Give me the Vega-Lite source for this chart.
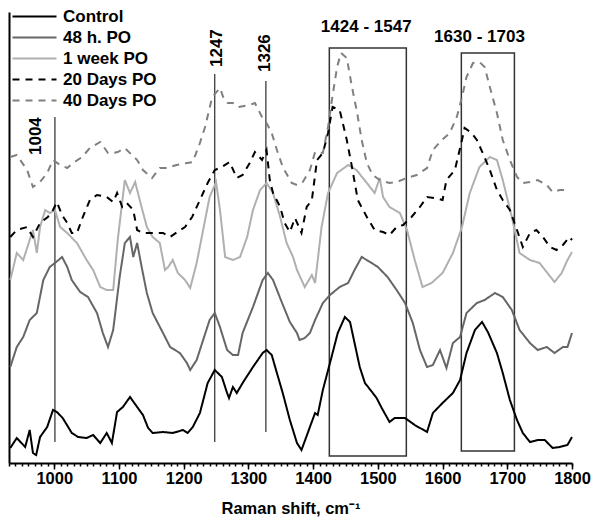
{
  "$schema": "https://vega.github.io/schema/vega-lite/v6.json",
  "width": 563,
  "height": 451,
  "autosize": "none",
  "padding": {"left": 9, "top": 12, "right": 28, "bottom": 57},
  "config": {"view": {"stroke": null}, "font": "Liberation Sans"},
  "datasets": {
    "spectra": [
      {"s":"Control","x":932,"y":15},{"s":"Control","x":942,"y":25},{"s":"Control","x":955,"y":16},{"s":"Control","x":962,"y":33},{"s":"Control","x":967,"y":10},{"s":"Control","x":972,"y":8},{"s":"Control","x":978,"y":26},{"s":"Control","x":989,"y":36},{"s":"Control","x":998,"y":53},{"s":"Control","x":1004,"y":51},{"s":"Control","x":1013,"y":45},{"s":"Control","x":1027,"y":30},{"s":"Control","x":1037,"y":26},{"s":"Control","x":1050,"y":25},{"s":"Control","x":1060,"y":28},{"s":"Control","x":1071,"y":20},{"s":"Control","x":1081,"y":30},{"s":"Control","x":1089,"y":20},{"s":"Control","x":1097,"y":51},{"s":"Control","x":1106,"y":56},{"s":"Control","x":1117,"y":66},{"s":"Control","x":1128,"y":56},{"s":"Control","x":1137,"y":48},{"s":"Control","x":1145,"y":35},{"s":"Control","x":1152,"y":30},{"s":"Control","x":1168,"y":31},{"s":"Control","x":1183,"y":30},{"s":"Control","x":1199,"y":33},{"s":"Control","x":1206,"y":30},{"s":"Control","x":1214,"y":36},{"s":"Control","x":1225,"y":50},{"s":"Control","x":1237,"y":80},{"s":"Control","x":1248,"y":93},{"s":"Control","x":1259,"y":86},{"s":"Control","x":1267,"y":70},{"s":"Control","x":1270,"y":65},{"s":"Control","x":1276,"y":76},{"s":"Control","x":1282,"y":70},{"s":"Control","x":1291,"y":80},{"s":"Control","x":1307,"y":96},{"s":"Control","x":1322,"y":110},{"s":"Control","x":1328,"y":113},{"s":"Control","x":1336,"y":108},{"s":"Control","x":1344,"y":90},{"s":"Control","x":1353,"y":70},{"s":"Control","x":1364,"y":43},{"s":"Control","x":1375,"y":20},{"s":"Control","x":1382,"y":13},{"s":"Control","x":1395,"y":36},{"s":"Control","x":1403,"y":50},{"s":"Control","x":1407,"y":48},{"s":"Control","x":1415,"y":73},{"s":"Control","x":1426,"y":100},{"s":"Control","x":1438,"y":130},{"s":"Control","x":1449,"y":146},{"s":"Control","x":1457,"y":141},{"s":"Control","x":1464,"y":120},{"s":"Control","x":1472,"y":96},{"s":"Control","x":1480,"y":80},{"s":"Control","x":1491,"y":71},{"s":"Control","x":1498,"y":65},{"s":"Control","x":1506,"y":55},{"s":"Control","x":1518,"y":41},{"s":"Control","x":1526,"y":45},{"s":"Control","x":1542,"y":45},{"s":"Control","x":1557,"y":38},{"s":"Control","x":1576,"y":31},{"s":"Control","x":1585,"y":50},{"s":"Control","x":1600,"y":60},{"s":"Control","x":1616,"y":70},{"s":"Control","x":1627,"y":83},{"s":"Control","x":1637,"y":110},{"s":"Control","x":1650,"y":133},{"s":"Control","x":1661,"y":141},{"s":"Control","x":1670,"y":131},{"s":"Control","x":1684,"y":110},{"s":"Control","x":1693,"y":90},{"s":"Control","x":1704,"y":63},{"s":"Control","x":1715,"y":43},{"s":"Control","x":1724,"y":30},{"s":"Control","x":1735,"y":21},{"s":"Control","x":1747,"y":23},{"s":"Control","x":1758,"y":23},{"s":"Control","x":1770,"y":15},{"s":"Control","x":1781,"y":16},{"s":"Control","x":1793,"y":18},{"s":"Control","x":1800,"y":26},

      {"s":"48 h. PO","x":932,"y":96},{"s":"48 h. PO","x":942,"y":116},{"s":"48 h. PO","x":952,"y":126},{"s":"48 h. PO","x":962,"y":143},{"s":"48 h. PO","x":973,"y":150},{"s":"48 h. PO","x":983,"y":183},{"s":"48 h. PO","x":993,"y":196},{"s":"48 h. PO","x":1001,"y":200},{"s":"48 h. PO","x":1012,"y":206},{"s":"48 h. PO","x":1020,"y":196},{"s":"48 h. PO","x":1027,"y":183},{"s":"48 h. PO","x":1040,"y":171},{"s":"48 h. PO","x":1052,"y":166},{"s":"48 h. PO","x":1066,"y":150},{"s":"48 h. PO","x":1075,"y":130},{"s":"48 h. PO","x":1083,"y":116},{"s":"48 h. PO","x":1091,"y":133},{"s":"48 h. PO","x":1101,"y":186},{"s":"48 h. PO","x":1109,"y":220},{"s":"48 h. PO","x":1117,"y":226},{"s":"48 h. PO","x":1122,"y":206},{"s":"48 h. PO","x":1128,"y":220},{"s":"48 h. PO","x":1135,"y":196},{"s":"48 h. PO","x":1143,"y":170},{"s":"48 h. PO","x":1152,"y":150},{"s":"48 h. PO","x":1168,"y":130},{"s":"48 h. PO","x":1179,"y":116},{"s":"48 h. PO","x":1194,"y":110},{"s":"48 h. PO","x":1205,"y":100},{"s":"48 h. PO","x":1210,"y":93},{"s":"48 h. PO","x":1220,"y":103},{"s":"48 h. PO","x":1230,"y":123},{"s":"48 h. PO","x":1240,"y":143},{"s":"48 h. PO","x":1248,"y":150},{"s":"48 h. PO","x":1256,"y":136},{"s":"48 h. PO","x":1267,"y":113},{"s":"48 h. PO","x":1276,"y":108},{"s":"48 h. PO","x":1284,"y":108},{"s":"48 h. PO","x":1291,"y":130},{"s":"48 h. PO","x":1307,"y":156},{"s":"48 h. PO","x":1322,"y":183},{"s":"48 h. PO","x":1330,"y":190},{"s":"48 h. PO","x":1338,"y":183},{"s":"48 h. PO","x":1352,"y":160},{"s":"48 h. PO","x":1364,"y":141},{"s":"48 h. PO","x":1375,"y":130},{"s":"48 h. PO","x":1379,"y":123},{"s":"48 h. PO","x":1387,"y":125},{"s":"48 h. PO","x":1395,"y":130},{"s":"48 h. PO","x":1403,"y":143},{"s":"48 h. PO","x":1415,"y":160},{"s":"48 h. PO","x":1426,"y":168},{"s":"48 h. PO","x":1441,"y":176},{"s":"48 h. PO","x":1454,"y":180},{"s":"48 h. PO","x":1464,"y":193},{"s":"48 h. PO","x":1475,"y":206},{"s":"48 h. PO","x":1488,"y":201},{"s":"48 h. PO","x":1500,"y":196},{"s":"48 h. PO","x":1515,"y":186},{"s":"48 h. PO","x":1529,"y":173},{"s":"48 h. PO","x":1542,"y":160},{"s":"48 h. PO","x":1554,"y":140},{"s":"48 h. PO","x":1565,"y":113},{"s":"48 h. PO","x":1576,"y":96},{"s":"48 h. PO","x":1585,"y":98},{"s":"48 h. PO","x":1596,"y":113},{"s":"48 h. PO","x":1606,"y":95},{"s":"48 h. PO","x":1616,"y":120},{"s":"48 h. PO","x":1627,"y":126},{"s":"48 h. PO","x":1637,"y":150},{"s":"48 h. PO","x":1653,"y":160},{"s":"48 h. PO","x":1665,"y":163},{"s":"48 h. PO","x":1681,"y":170},{"s":"48 h. PO","x":1693,"y":166},{"s":"48 h. PO","x":1707,"y":153},{"s":"48 h. PO","x":1719,"y":133},{"s":"48 h. PO","x":1735,"y":120},{"s":"48 h. PO","x":1747,"y":113},{"s":"48 h. PO","x":1761,"y":116},{"s":"48 h. PO","x":1773,"y":110},{"s":"48 h. PO","x":1786,"y":116},{"s":"48 h. PO","x":1793,"y":116},{"s":"48 h. PO","x":1800,"y":130},

      {"s":"1 week PO","x":932,"y":183},{"s":"1 week PO","x":942,"y":210},{"s":"1 week PO","x":952,"y":203},{"s":"1 week PO","x":962,"y":223},{"s":"1 week PO","x":967,"y":233},{"s":"1 week PO","x":973,"y":210},{"s":"1 week PO","x":978,"y":236},{"s":"1 week PO","x":986,"y":253},{"s":"1 week PO","x":993,"y":250},{"s":"1 week PO","x":1001,"y":253},{"s":"1 week PO","x":1009,"y":236},{"s":"1 week PO","x":1020,"y":230},{"s":"1 week PO","x":1035,"y":220},{"s":"1 week PO","x":1050,"y":203},{"s":"1 week PO","x":1060,"y":193},{"s":"1 week PO","x":1071,"y":176},{"s":"1 week PO","x":1081,"y":173},{"s":"1 week PO","x":1091,"y":173},{"s":"1 week PO","x":1098,"y":223},{"s":"1 week PO","x":1109,"y":283},{"s":"1 week PO","x":1117,"y":270},{"s":"1 week PO","x":1125,"y":281},{"s":"1 week PO","x":1132,"y":263},{"s":"1 week PO","x":1143,"y":236},{"s":"1 week PO","x":1152,"y":226},{"s":"1 week PO","x":1163,"y":220},{"s":"1 week PO","x":1171,"y":193},{"s":"1 week PO","x":1176,"y":196},{"s":"1 week PO","x":1183,"y":203},{"s":"1 week PO","x":1191,"y":190},{"s":"1 week PO","x":1202,"y":183},{"s":"1 week PO","x":1210,"y":175},{"s":"1 week PO","x":1220,"y":200},{"s":"1 week PO","x":1230,"y":233},{"s":"1 week PO","x":1240,"y":266},{"s":"1 week PO","x":1250,"y":281},{"s":"1 week PO","x":1256,"y":253},{"s":"1 week PO","x":1264,"y":206},{"s":"1 week PO","x":1276,"y":203},{"s":"1 week PO","x":1287,"y":206},{"s":"1 week PO","x":1298,"y":226},{"s":"1 week PO","x":1307,"y":253},{"s":"1 week PO","x":1318,"y":273},{"s":"1 week PO","x":1328,"y":280},{"s":"1 week PO","x":1338,"y":270},{"s":"1 week PO","x":1349,"y":246},{"s":"1 week PO","x":1359,"y":220},{"s":"1 week PO","x":1369,"y":206},{"s":"1 week PO","x":1375,"y":193},{"s":"1 week PO","x":1387,"y":176},{"s":"1 week PO","x":1398,"y":188},{"s":"1 week PO","x":1403,"y":180},{"s":"1 week PO","x":1413,"y":236},{"s":"1 week PO","x":1423,"y":270},{"s":"1 week PO","x":1437,"y":290},{"s":"1 week PO","x":1454,"y":298},{"s":"1 week PO","x":1467,"y":293},{"s":"1 week PO","x":1483,"y":280},{"s":"1 week PO","x":1495,"y":270},{"s":"1 week PO","x":1503,"y":285},{"s":"1 week PO","x":1508,"y":266},{"s":"1 week PO","x":1518,"y":256},{"s":"1 week PO","x":1534,"y":250},{"s":"1 week PO","x":1545,"y":233},{"s":"1 week PO","x":1557,"y":203},{"s":"1 week PO","x":1569,"y":176},{"s":"1 week PO","x":1583,"y":180},{"s":"1 week PO","x":1600,"y":190},{"s":"1 week PO","x":1616,"y":210},{"s":"1 week PO","x":1630,"y":236},{"s":"1 week PO","x":1642,"y":270},{"s":"1 week PO","x":1657,"y":296},{"s":"1 week PO","x":1673,"y":306},{"s":"1 week PO","x":1684,"y":303},{"s":"1 week PO","x":1693,"y":283},{"s":"1 week PO","x":1707,"y":246},{"s":"1 week PO","x":1719,"y":210},{"s":"1 week PO","x":1735,"y":203},{"s":"1 week PO","x":1750,"y":200},{"s":"1 week PO","x":1762,"y":190},{"s":"1 week PO","x":1773,"y":181},{"s":"1 week PO","x":1784,"y":190},{"s":"1 week PO","x":1793,"y":203},{"s":"1 week PO","x":1800,"y":211},

      {"s":"20 Days PO","x":932,"y":226},{"s":"20 Days PO","x":942,"y":233},{"s":"20 Days PO","x":958,"y":236},{"s":"20 Days PO","x":967,"y":226},{"s":"20 Days PO","x":978,"y":240},{"s":"20 Days PO","x":990,"y":246},{"s":"20 Days PO","x":998,"y":253},{"s":"20 Days PO","x":1004,"y":261},{"s":"20 Days PO","x":1012,"y":248},{"s":"20 Days PO","x":1020,"y":240},{"s":"20 Days PO","x":1027,"y":230},{"s":"20 Days PO","x":1035,"y":230},{"s":"20 Days PO","x":1044,"y":246},{"s":"20 Days PO","x":1055,"y":263},{"s":"20 Days PO","x":1066,"y":268},{"s":"20 Days PO","x":1081,"y":266},{"s":"20 Days PO","x":1091,"y":261},{"s":"20 Days PO","x":1097,"y":270},{"s":"20 Days PO","x":1105,"y":256},{"s":"20 Days PO","x":1112,"y":260},{"s":"20 Days PO","x":1122,"y":253},{"s":"20 Days PO","x":1128,"y":233},{"s":"20 Days PO","x":1137,"y":230},{"s":"20 Days PO","x":1152,"y":230},{"s":"20 Days PO","x":1168,"y":230},{"s":"20 Days PO","x":1179,"y":226},{"s":"20 Days PO","x":1190,"y":231},{"s":"20 Days PO","x":1202,"y":236},{"s":"20 Days PO","x":1213,"y":246},{"s":"20 Days PO","x":1225,"y":263},{"s":"20 Days PO","x":1237,"y":280},{"s":"20 Days PO","x":1248,"y":293},{"s":"20 Days PO","x":1259,"y":296},{"s":"20 Days PO","x":1271,"y":301},{"s":"20 Days PO","x":1282,"y":285},{"s":"20 Days PO","x":1291,"y":288},{"s":"20 Days PO","x":1302,"y":300},{"s":"20 Days PO","x":1310,"y":311},{"s":"20 Days PO","x":1321,"y":303},{"s":"20 Days PO","x":1328,"y":313},{"s":"20 Days PO","x":1333,"y":283},{"s":"20 Days PO","x":1338,"y":270},{"s":"20 Days PO","x":1349,"y":256},{"s":"20 Days PO","x":1356,"y":240},{"s":"20 Days PO","x":1364,"y":231},{"s":"20 Days PO","x":1372,"y":245},{"s":"20 Days PO","x":1382,"y":230},{"s":"20 Days PO","x":1390,"y":256},{"s":"20 Days PO","x":1398,"y":263},{"s":"20 Days PO","x":1406,"y":303},{"s":"20 Days PO","x":1415,"y":310},{"s":"20 Days PO","x":1423,"y":330},{"s":"20 Days PO","x":1430,"y":356},{"s":"20 Days PO","x":1441,"y":353},{"s":"20 Days PO","x":1452,"y":323},{"s":"20 Days PO","x":1460,"y":296},{"s":"20 Days PO","x":1469,"y":263},{"s":"20 Days PO","x":1483,"y":246},{"s":"20 Days PO","x":1495,"y":233},{"s":"20 Days PO","x":1508,"y":231},{"s":"20 Days PO","x":1518,"y":228},{"s":"20 Days PO","x":1529,"y":236},{"s":"20 Days PO","x":1539,"y":238},{"s":"20 Days PO","x":1552,"y":246},{"s":"20 Days PO","x":1565,"y":256},{"s":"20 Days PO","x":1576,"y":266},{"s":"20 Days PO","x":1588,"y":265},{"s":"20 Days PO","x":1600,"y":263},{"s":"20 Days PO","x":1606,"y":283},{"s":"20 Days PO","x":1619,"y":293},{"s":"20 Days PO","x":1630,"y":323},{"s":"20 Days PO","x":1634,"y":335},{"s":"20 Days PO","x":1645,"y":330},{"s":"20 Days PO","x":1653,"y":323},{"s":"20 Days PO","x":1662,"y":310},{"s":"20 Days PO","x":1673,"y":293},{"s":"20 Days PO","x":1684,"y":273},{"s":"20 Days PO","x":1693,"y":263},{"s":"20 Days PO","x":1704,"y":253},{"s":"20 Days PO","x":1715,"y":233},{"s":"20 Days PO","x":1724,"y":216},{"s":"20 Days PO","x":1735,"y":230},{"s":"20 Days PO","x":1745,"y":233},{"s":"20 Days PO","x":1755,"y":226},{"s":"20 Days PO","x":1766,"y":216},{"s":"20 Days PO","x":1776,"y":213},{"s":"20 Days PO","x":1786,"y":218},{"s":"20 Days PO","x":1796,"y":226},{"s":"20 Days PO","x":1800,"y":223},

      {"s":"40 Days PO","x":932,"y":306},{"s":"40 Days PO","x":942,"y":308},{"s":"40 Days PO","x":958,"y":293},{"s":"40 Days PO","x":967,"y":276},{"s":"40 Days PO","x":978,"y":281},{"s":"40 Days PO","x":989,"y":290},{"s":"40 Days PO","x":998,"y":303},{"s":"40 Days PO","x":1009,"y":298},{"s":"40 Days PO","x":1020,"y":295},{"s":"40 Days PO","x":1029,"y":300},{"s":"40 Days PO","x":1043,"y":306},{"s":"40 Days PO","x":1055,"y":315},{"s":"40 Days PO","x":1071,"y":321},{"s":"40 Days PO","x":1083,"y":310},{"s":"40 Days PO","x":1091,"y":310},{"s":"40 Days PO","x":1098,"y":311},{"s":"40 Days PO","x":1109,"y":315},{"s":"40 Days PO","x":1120,"y":308},{"s":"40 Days PO","x":1128,"y":303},{"s":"40 Days PO","x":1137,"y":293},{"s":"40 Days PO","x":1151,"y":285},{"s":"40 Days PO","x":1163,"y":295},{"s":"40 Days PO","x":1174,"y":295},{"s":"40 Days PO","x":1189,"y":298},{"s":"40 Days PO","x":1205,"y":300},{"s":"40 Days PO","x":1214,"y":301},{"s":"40 Days PO","x":1225,"y":320},{"s":"40 Days PO","x":1233,"y":336},{"s":"40 Days PO","x":1244,"y":366},{"s":"40 Days PO","x":1256,"y":375},{"s":"40 Days PO","x":1261,"y":366},{"s":"40 Days PO","x":1268,"y":360},{"s":"40 Days PO","x":1276,"y":360},{"s":"40 Days PO","x":1284,"y":356},{"s":"40 Days PO","x":1302,"y":358},{"s":"40 Days PO","x":1310,"y":360},{"s":"40 Days PO","x":1321,"y":346},{"s":"40 Days PO","x":1328,"y":340},{"s":"40 Days PO","x":1336,"y":330},{"s":"40 Days PO","x":1344,"y":313},{"s":"40 Days PO","x":1353,"y":296},{"s":"40 Days PO","x":1367,"y":280},{"s":"40 Days PO","x":1375,"y":278},{"s":"40 Days PO","x":1384,"y":281},{"s":"40 Days PO","x":1395,"y":293},{"s":"40 Days PO","x":1403,"y":311},{"s":"40 Days PO","x":1415,"y":310},{"s":"40 Days PO","x":1423,"y":336},{"s":"40 Days PO","x":1429,"y":363},{"s":"40 Days PO","x":1437,"y":396},{"s":"40 Days PO","x":1443,"y":410},{"s":"40 Days PO","x":1452,"y":405},{"s":"40 Days PO","x":1460,"y":376},{"s":"40 Days PO","x":1468,"y":350},{"s":"40 Days PO","x":1475,"y":323},{"s":"40 Days PO","x":1483,"y":300},{"s":"40 Days PO","x":1492,"y":288},{"s":"40 Days PO","x":1503,"y":283},{"s":"40 Days PO","x":1518,"y":280},{"s":"40 Days PO","x":1529,"y":281},{"s":"40 Days PO","x":1545,"y":285},{"s":"40 Days PO","x":1560,"y":288},{"s":"40 Days PO","x":1576,"y":295},{"s":"40 Days PO","x":1585,"y":313},{"s":"40 Days PO","x":1599,"y":323},{"s":"40 Days PO","x":1611,"y":330},{"s":"40 Days PO","x":1622,"y":346},{"s":"40 Days PO","x":1630,"y":366},{"s":"40 Days PO","x":1637,"y":386},{"s":"40 Days PO","x":1647,"y":400},{"s":"40 Days PO","x":1657,"y":401},{"s":"40 Days PO","x":1665,"y":396},{"s":"40 Days PO","x":1673,"y":376},{"s":"40 Days PO","x":1684,"y":350},{"s":"40 Days PO","x":1693,"y":323},{"s":"40 Days PO","x":1704,"y":303},{"s":"40 Days PO","x":1715,"y":286},{"s":"40 Days PO","x":1724,"y":280},{"s":"40 Days PO","x":1735,"y":281},{"s":"40 Days PO","x":1747,"y":283},{"s":"40 Days PO","x":1761,"y":278},{"s":"40 Days PO","x":1770,"y":271},{"s":"40 Days PO","x":1781,"y":273},{"s":"40 Days PO","x":1793,"y":273}
    ],
    "boxes": [
      {"x1": 1425, "x2": 1544, "y1": 7, "y2": 415},
      {"x1": 1629, "x2": 1711, "y1": 12, "y2": 410}
    ],
    "rules": [
      {"x": 1001, "y1": 21, "y2": 346},
      {"x": 1248, "y1": 21, "y2": 389},
      {"x": 1327, "y1": 31, "y2": 382}
    ],
    "vlabels": [
      {"t": "1004", "x": 971, "y": 308},
      {"t": "1247", "x": 1251, "y": 396},
      {"t": "1326", "x": 1325, "y": 391}
    ],
    "hlabels": [
      {"t": "1424 - 1547", "x": 1482, "y": 436},
      {"t": "1630 - 1703", "x": 1657, "y": 426}
    ]
  },
  "layer": [
    {
      "data": {"name": "boxes"},
      "mark": {"type": "rect", "fill": "white", "fillOpacity": 0, "stroke": "#333333", "strokeWidth": 1.5},
      "encoding": {
        "x": {"field": "x1", "type": "quantitative", "scale": {"domain": [930, 1800], "nice": false, "zero": false},
          "axis": {"orient": "bottom", "values": [930,940,950,960,970,980,990,1000,1010,1020,1030,1040,1050,1060,1070,1080,1090,1100,1110,1120,1130,1140,1150,1160,1170,1180,1190,1200,1210,1220,1230,1240,1250,1260,1270,1280,1290,1300,1310,1320,1330,1340,1350,1360,1370,1380,1390,1400,1410,1420,1430,1440,1450,1460,1470,1480,1490,1500,1510,1520,1530,1540,1550,1560,1570,1580,1590,1600,1610,1620,1630,1640,1650,1660,1670,1680,1690,1700,1710,1720,1730,1740,1750,1760,1770,1780,1790,1800],
            "labels": false, "domain": false, "grid": false, "title": null, "tickSize": 3, "tickWidth": 1.5, "tickColor": "black"}},
        "x2": {"field": "x2"},
        "y": {"field": "y1", "type": "quantitative", "scale": {"domain": [0, 451], "nice": false, "zero": false}, "axis": null},
        "y2": {"field": "y2"}
      }
    },
    {
      "data": {"name": "rules"},
      "mark": {"type": "rule", "color": "black", "strokeWidth": 1},
      "encoding": {
        "x": {"field": "x", "type": "quantitative", "axis": null},
        "y": {"field": "y1", "type": "quantitative", "axis": null},
        "y2": {"field": "y2"}
      }
    },
    {
      "data": {"name": "spectra"},
      "mark": {"type": "line", "strokeWidth": 2},
      "encoding": {
        "x": {"field": "x", "type": "quantitative",
          "axis": {"orient": "bottom", "values": [1000,1100,1200,1300,1400,1500,1600,1700,1800], "format": "d", "grid": false,
            "domainWidth": 2, "domainColor": "black", "tickSize": 6, "tickWidth": 1.5, "tickColor": "black",
            "labelFontSize": 16.5, "labelFontWeight": "bold", "labelColor": "black", "labelFont": "Liberation Sans", "labelPadding": 1, "labelFlush": false,
            "title": "Raman shift, cm⁻¹", "titleFontSize": 16.5, "titleFontWeight": "bold", "titleColor": "black", "titleFont": "Liberation Sans", "titlePadding": 14}},
        "y": {"field": "y", "type": "quantitative",
          "axis": {"domain": true, "domainWidth": 2, "domainColor": "black", "ticks": false, "labels": false, "grid": false, "title": null}},
        "color": {"field": "s", "type": "nominal",
          "scale": {"domain": ["Control", "48 h. PO", "1 week PO", "20 Days PO", "40 Days PO"], "range": ["#000000", "#666666", "#b0b0b0", "#000000", "#808080"]},
          "legend": {"orient": "none", "legendX": 17, "legendY": -4, "title": null, "symbolType": "M-4,0H4", "symbolSize": 121, "symbolStrokeWidth": 2,
            "labelFontSize": 17, "labelFontWeight": "bold", "labelFont": "Liberation Sans", "labelColor": "black", "labelOffset": 20, "rowPadding": 3}},
        "strokeDash": {"field": "s", "type": "nominal",
          "scale": {"domain": ["Control", "48 h. PO", "1 week PO", "20 Days PO", "40 Days PO"], "range": [[1,0],[1,0],[1,0],[7,6],[7,6]]},
          "legend": {"orient": "none", "legendX": 17, "legendY": -4, "title": null, "symbolType": "M-4,0H4", "symbolSize": 121, "symbolStrokeWidth": 2,
            "labelFontSize": 17, "labelFontWeight": "bold", "labelFont": "Liberation Sans", "labelColor": "black", "labelOffset": 20, "rowPadding": 3}},
        "order": {"field": "x", "type": "quantitative"}
      }
    },
    {
      "data": {"name": "vlabels"},
      "mark": {"type": "text", "angle": 270, "align": "left", "baseline": "middle", "fontSize": 17, "fontWeight": "bold", "font": "Liberation Sans", "color": "black"},
      "encoding": {
        "x": {"field": "x", "type": "quantitative", "axis": null},
        "y": {"field": "y", "type": "quantitative", "axis": null},
        "text": {"field": "t"}
      }
    },
    {
      "data": {"name": "hlabels"},
      "mark": {"type": "text", "align": "center", "baseline": "middle", "fontSize": 17, "fontWeight": "bold", "font": "Liberation Sans", "color": "black"},
      "encoding": {
        "x": {"field": "x", "type": "quantitative", "axis": null},
        "y": {"field": "y", "type": "quantitative", "axis": null},
        "text": {"field": "t"}
      }
    }
  ],
  "resolve": {"axis": {"x": "independent", "y": "independent"}}
}
